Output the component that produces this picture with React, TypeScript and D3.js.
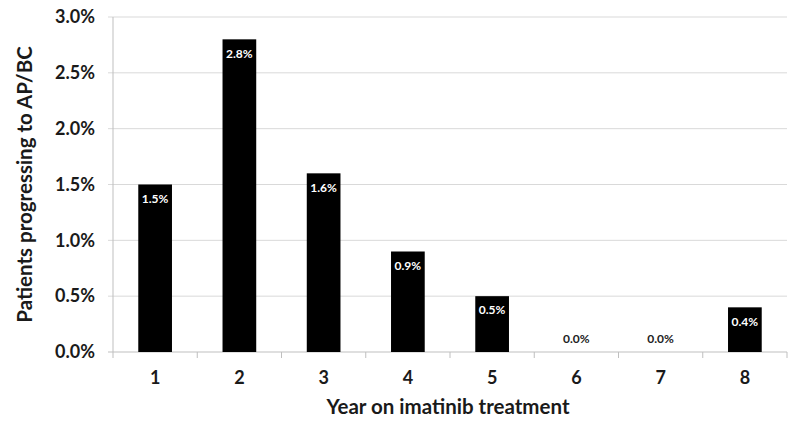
import React from "react";
import * as d3 from "d3";

const years = ["1", "2", "3", "4", "5", "6", "7", "8"];
const values = [1.5, 2.8, 1.6, 0.9, 0.5, 0.0, 0.0, 0.4];
const yTicks = [0, 0.5, 1.0, 1.5, 2.0, 2.5, 3.0];
const xTitle = "Year on imatinib treatment";
const yTitle = "Patients progressing to AP/BC";

const W = 800;
const H = 427;
const left = 113;
const right = 787;
const top = 17;
const bottom = 352;
const FONT = "Lato, 'Open Sans', sans-serif";

export default function App() {
  const x = d3.scaleBand<string>().domain(years).range([left, right]).paddingInner(0.6).paddingOuter(0.3);
  const xb = d3.scaleBand<string>().domain(years).range([left, right]);
  const y = d3.scaleLinear().domain([0, 3]).range([bottom, top]);
  const fmt = (v: number) => v.toFixed(1) + "%";

  return (
    <svg width={W} height={H} style={{ position: "absolute", left: 0, top: 0, background: "#fff" }} fontFamily={FONT}>
      {yTicks.map((t) => (
        <g key={t}>
          <line x1={left - 5} x2={right} y1={y(t)} y2={y(t)} stroke={t === 0 ? "#bfbfbf" : "#d9d9d9"} strokeWidth={1} />
          <text x={95} y={y(t)} dy="0.35em" textAnchor="end" fontSize={18} fontWeight="bold" fill="#1a1a1a">
            {fmt(t)}
          </text>
        </g>
      ))}
      <line x1={left} x2={left} y1={top} y2={bottom + 6} stroke="#bfbfbf" />
      {years.map((yr) => (
        <line key={"t" + yr} x1={(xb(yr) as number) + xb.bandwidth()} x2={(xb(yr) as number) + xb.bandwidth()} y1={bottom} y2={bottom + 6} stroke="#bfbfbf" />
      ))}
      {years.map((yr, i) => {
        const v = values[i];
        const bx = x(yr) as number;
        const cx = bx + x.bandwidth() / 2;
        const zero = v === 0;
        return (
          <g key={yr}>
            {!zero && <rect x={bx} y={y(v)} width={x.bandwidth()} height={bottom - y(v)} fill="#000" />}
            <text x={cx} y={zero ? bottom - 13 : y(v) + 14} dy="0.35em" textAnchor="middle" fontSize={12} fontWeight="bold" fill={zero ? "#222" : "#fff"}>
              {fmt(v)}
            </text>
            <text x={cx} y={378} dy="0.35em" textAnchor="middle" fontSize={18} fontWeight="bold" fill="#1a1a1a">
              {yr}
            </text>
          </g>
        );
      })}
      <text x={448} y={407} dy="0.35em" textAnchor="middle" fontSize={20.5} fontWeight="bold" fill="#1a1a1a">
        {xTitle}
      </text>
      <text transform={`translate(25, ${(top + bottom) / 2}) rotate(-90)`} dy="0.35em" textAnchor="middle" fontSize={20.5} fontWeight="bold" fill="#1a1a1a">
        {yTitle}
      </text>
    </svg>
  );
}
